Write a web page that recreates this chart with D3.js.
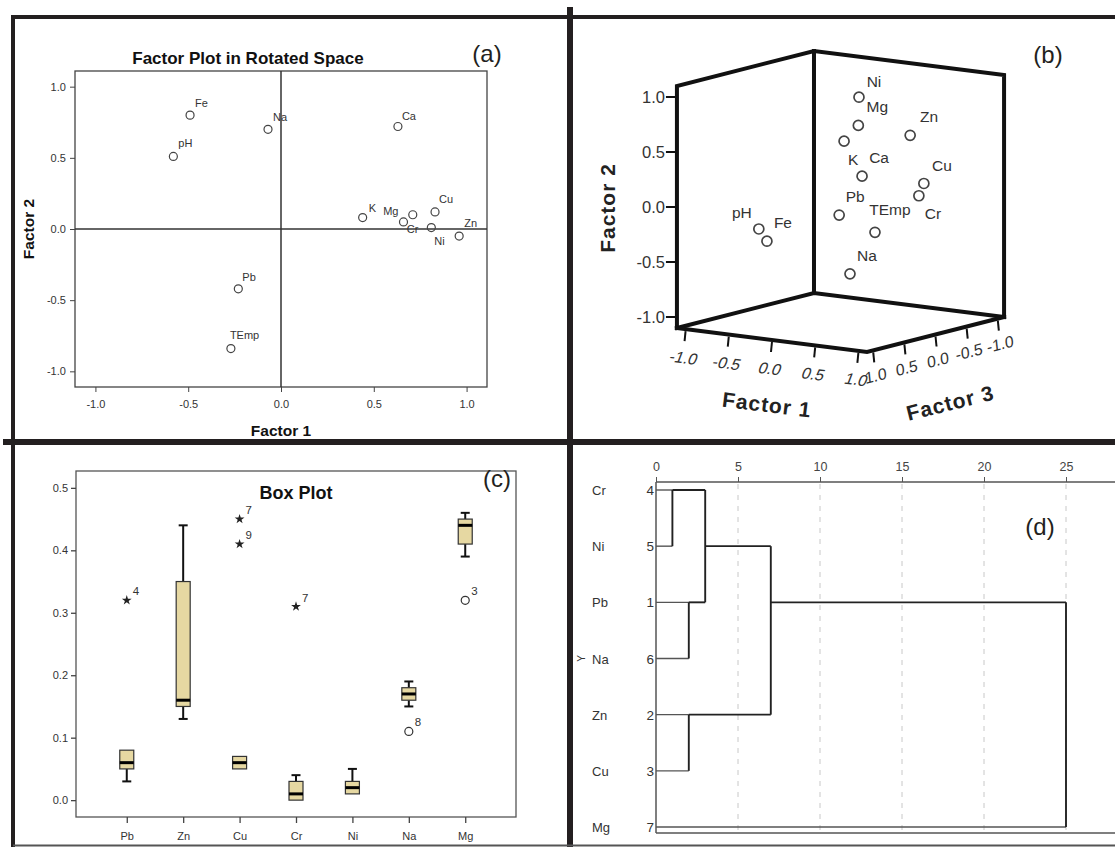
<!DOCTYPE html>
<html>
<head>
<meta charset="utf-8">
<script src="https://cdn.jsdelivr.net/npm/d3@7"></script>
<style>
  html, body { margin: 0; padding: 0; background: #fff; }
  svg { display: block; }
  text { font-family: Arial, "Liberation Sans", sans-serif; }
</style>
</head>
<body>
<svg id="chart" width="1115" height="847"></svg>
<script>
// ---------------- DATA ----------------
// (a) Factor plot in rotated space
const varsA = ["Fe", "Na", "pH", "Ca", "K", "Mg", "Cr", "Cu", "Ni", "Zn", "Pb", "TEmp"];
const f1A   = [-0.49, -0.07, -0.58, 0.63, 0.44, 0.66, 0.71, 0.83, 0.81, 0.96, -0.23, -0.27];
const f2A   = [0.80, 0.70, 0.51, 0.72, 0.08, 0.05, 0.10, 0.12, 0.01, -0.05, -0.42, -0.84];
const ticksA = [-1.0, -0.5, 0.0, 0.5, 1.0];

// (b) 3-D factor plot
const varsB = ["Ni", "Mg", "K", "Zn", "Ca", "Cu", "Cr", "Pb", "TEmp", "Na", "pH", "Fe"];
const f1B   = [0.25, 0.30, 0.20, 0.90, 0.30, 0.90, 0.90, 0.10, 0.50, 0.20, -0.70, -0.70];
const f2B   = [0.98, 0.74, 0.60, 0.71, 0.27, 0.24, 0.14, -0.09, -0.21, -0.62, -0.27, -0.40];
const f3B   = [0.05, 0.13, 0.22, 0.13, 0.07, -0.09, -0.01, 0.16, 0.14, 0.125, 0.34, 0.21];
const ticksB = [-1.0, -0.5, 0.0, 0.5, 1.0];

// (c) Box plot
const boxCats = ["Pb", "Zn", "Cu", "Cr", "Ni", "Na", "Mg"];
const boxMin  = [0.03, 0.13, 0.05, 0.00, 0.01, 0.15, 0.39];
const boxQ1   = [0.05, 0.15, 0.05, 0.00, 0.01, 0.16, 0.41];
const boxMed  = [0.06, 0.16, 0.06, 0.01, 0.02, 0.17, 0.44];
const boxQ3   = [0.08, 0.35, 0.07, 0.03, 0.03, 0.18, 0.45];
const boxMax  = [0.08, 0.44, 0.07, 0.04, 0.05, 0.19, 0.46];
const outCat  = ["Pb", "Cu", "Cu", "Cr", "Na", "Mg"];
const outVal  = [0.32, 0.45, 0.41, 0.31, 0.11, 0.32];
const outCase = ["4", "7", "9", "7", "8", "3"];
const outKind = ["extreme", "extreme", "extreme", "extreme", "outlier", "outlier"];
const ticksC  = [0.0, 0.1, 0.2, 0.3, 0.4, 0.5];

// (d) Dendrogram
const leafNames = ["Cr", "Ni", "Pb", "Na", "Zn", "Cu", "Mg"];
const leafNums  = ["4", "5", "1", "6", "2", "3", "7"];
const mergeIds   = ["C1", "C2", "C3", "C4", "C5", "C6"];
const mergeLeft  = ["Cr", "Pb", "Zn", "C1", "C4", "C5"];
const mergeRight = ["Ni", "Na", "Cu", "C2", "C3", "Mg"];
const mergeDist  = [1, 2, 2, 3, 7, 25];
const ticksD = [0, 5, 10, 15, 20, 25];

// ---------------- STYLE / LAYOUT ----------------
const INK = "#231f20";
const TXT = "#333";
const fmt1 = t => t.toFixed(1);   // plain hyphen minus, like the original
const svg = d3.select("#chart");

const labOffA = {
  Fe: [5, -8, "start"], Na: [5, -8, "start"], pH: [5, -9, "start"], Ca: [4, -7, "start"],
  K: [6, -6, "start"], Mg: [-5, -7, "end"], Cr: [-6, 18, "start"], Cu: [4, -9, "start"],
  Ni: [3, 17, "start"], Zn: [5, -9, "start"], Pb: [4, -8, "start"], TEmp: [-1, -10, "start"]
};
const labOffB = {
  Ni: [15, -15], Mg: [19, -18], Zn: [19, -18], K: [9, 19], Ca: [17, -18], Cu: [18, -17],
  Cr: [14, 18], TEmp: [15, -22], Pb: [16, -18], Na: [17, -18], pH: [-17, -16], Fe: [16, -18]
};

// ================= PANEL (a) =================
(function () {
  const L = 75, R = 487, T = 71, B = 387;
  const x = d3.scaleLinear().domain([-1.11, 1.11]).range([L, R]);
  const y = d3.scaleLinear().domain([-1.11, 1.11]).range([B, T]);
  const g = svg.append("g");

  g.append("rect").attr("x", L).attr("y", T).attr("width", R - L).attr("height", B - T)
    .attr("fill", "none").attr("stroke", "#444").attr("stroke-width", 1.3);

  g.append("line").attr("x1", x(0)).attr("x2", x(0)).attr("y1", T).attr("y2", B)
    .attr("stroke", "#333").attr("stroke-width", 1.5);
  g.append("line").attr("x1", L).attr("x2", R).attr("y1", y(0)).attr("y2", y(0))
    .attr("stroke", "#333").attr("stroke-width", 1.5);

  const xa = g.append("g").attr("transform", `translate(0,${B})`)
    .call(d3.axisBottom(x).tickValues(ticksA).tickFormat(fmt1).tickSize(5).tickSizeOuter(0));
  const ya = g.append("g").attr("transform", `translate(${L},0)`)
    .call(d3.axisLeft(y).tickValues(ticksA).tickFormat(fmt1).tickSize(5).tickSizeOuter(0));
  [xa, ya].forEach(a => {
    a.select(".domain").remove();
    a.selectAll("line").attr("stroke", "#444");
    a.selectAll("text").attr("fill", TXT).attr("font-size", 11);
  });
  xa.selectAll("text").attr("dy", "1.2em");
  ya.selectAll("text").attr("dx", "-0.1em");

  g.append("text").attr("x", 248).attr("y", 64).attr("text-anchor", "middle")
    .attr("font-size", 17).attr("font-weight", "bold").attr("fill", "#111")
    .text("Factor Plot in Rotated Space");
  g.append("text").attr("x", x(0)).attr("y", 436).attr("text-anchor", "middle")
    .attr("font-size", 15.5).attr("font-weight", "bold").attr("fill", "#111").text("Factor 1");
  g.append("text").attr("transform", `translate(34,${y(0)}) rotate(-90)`).attr("text-anchor", "middle")
    .attr("font-size", 15.5).attr("font-weight", "bold").attr("fill", "#111").text("Factor 2");
  g.append("text").attr("x", 487).attr("y", 62).attr("text-anchor", "middle")
    .attr("font-size", 24).attr("fill", INK).text("(a)");

  const pts = varsA.map((v, i) => ({ v, x: f1A[i], y: f2A[i] }));
  g.selectAll("circle.pa").data(pts).join("circle").attr("class", "pa")
    .attr("cx", d => x(d.x)).attr("cy", d => y(d.y)).attr("r", 4)
    .attr("fill", "none").attr("stroke", "#444").attr("stroke-width", 1.2);
  g.selectAll("text.la").data(pts).join("text").attr("class", "la")
    .attr("x", d => x(d.x) + labOffA[d.v][0]).attr("y", d => y(d.y) + labOffA[d.v][1])
    .attr("text-anchor", d => labOffA[d.v][2])
    .attr("font-size", 11).attr("fill", TXT).text(d => d.v);
})();

// ================= PANEL (b) =================
(function () {
  const ox = 840.5, oy = 201.5;
  const u1x = d3.scaleLinear().domain([-1, 1]).range([-86.4, 86.4]);
  const u1y = d3.scaleLinear().domain([-1, 1]).range([-10.9, 10.9]);
  const v2y = d3.scaleLinear().domain([-1, 1]).range([110, -110]);
  const w3x = d3.scaleLinear().domain([-1, 1]).range([62.3, -62.3]);
  const w3y = d3.scaleLinear().domain([-1, 1]).range([-15.9, 15.9]);
  const P = (a, b, c) => [ox + u1x(a) + w3x(c), oy + u1y(a) + v2y(b) + w3y(c)];
  const E = 1.1;
  const g = svg.append("g");
  const line = d3.line();
  const edge = (pts) => g.append("path").attr("d", line(pts)).attr("fill", "none")
    .attr("stroke", "#111").attr("stroke-width", 4).attr("stroke-linejoin", "miter").attr("stroke-linecap", "square");

  edge([P(-E, -E, E), P(-E, E, E), P(-E, E, -E), P(E, E, -E), P(E, -E, -E)]);
  edge([P(-E, -E, -E), P(-E, E, -E)]);
  edge([P(-E, -E, E), P(-E, -E, -E), P(E, -E, -E)]);
  edge([P(-E, -E, E), P(E, -E, E), P(E, -E, -E)]);

  ticksB.forEach(t => {
    const p = P(-E, t, E);
    g.append("line").attr("x1", p[0] - 11).attr("x2", p[0]).attr("y1", p[1]).attr("y2", p[1])
      .attr("stroke", "#111").attr("stroke-width", 2);
    g.append("text").attr("x", p[0] - 12).attr("y", p[1] + 6).attr("text-anchor", "end")
      .attr("font-size", 16.5).attr("fill", TXT).text(fmt1(t));
  });
  ticksB.forEach(t => {
    const p = P(t, -E, E);
    g.append("line").attr("x1", p[0]).attr("x2", p[0] - 1).attr("y1", p[1] + 2).attr("y2", p[1] + 12)
      .attr("stroke", "#111").attr("stroke-width", 2);
    g.append("text").attr("transform", `translate(${p[0] - 4},${p[1] + 34}) rotate(7) skewX(-14)`)
      .attr("text-anchor", "middle").attr("font-size", 16).attr("fill", TXT)
      .text(fmt1(t));
  });
  ticksB.forEach(t => {
    const p = P(E, -E, t);
    g.append("line").attr("x1", p[0]).attr("x2", p[0] + 1).attr("y1", p[1] + 2).attr("y2", p[1] + 12)
      .attr("stroke", "#111").attr("stroke-width", 2);
    g.append("text").attr("transform", `translate(${p[0] + 3},${p[1] + 31}) rotate(-14) skewX(-8)`)
      .attr("text-anchor", "middle").attr("font-size", 16).attr("fill", TXT)
      .text(fmt1(t));
  });

  g.append("text").attr("transform", "translate(766,412) rotate(7)").attr("text-anchor", "middle")
    .attr("font-size", 21).attr("font-weight", "bold").attr("letter-spacing", 1).attr("fill", "#222").text("Factor 1");
  g.append("text").attr("transform", "translate(952,410) rotate(-14)").attr("text-anchor", "middle")
    .attr("font-size", 21).attr("font-weight", "bold").attr("letter-spacing", 1).attr("fill", "#222").text("Factor 3");
  g.append("text").attr("transform", "translate(615,208) rotate(-90)").attr("text-anchor", "middle")
    .attr("font-size", 21).attr("font-weight", "bold").attr("letter-spacing", 1).attr("fill", "#222").text("Factor 2");
  g.append("text").attr("x", 1048).attr("y", 63).attr("text-anchor", "middle")
    .attr("font-size", 24).attr("fill", INK).text("(b)");

  const pts = varsB.map((v, i) => ({ v, p: P(f1B[i], f2B[i], f3B[i]) }));
  g.selectAll("circle.pb").data(pts).join("circle").attr("class", "pb")
    .attr("cx", d => d.p[0]).attr("cy", d => d.p[1]).attr("r", 5)
    .attr("fill", "none").attr("stroke", "#444").attr("stroke-width", 1.7);
  g.selectAll("text.lb").data(pts).join("text").attr("class", "lb")
    .attr("x", d => d.p[0] + labOffB[d.v][0]).attr("y", d => d.p[1] + labOffB[d.v][1] + 5)
    .attr("text-anchor", "middle").attr("font-size", 15.5).attr("fill", TXT).text(d => d.v);
})();

// ================= PANEL (c) =================
(function () {
  const L = 76, R = 516, T = 471, B = 817;
  const x = d3.scalePoint().domain(boxCats).range([L, R]).padding(0.9);
  const y = d3.scaleLinear().domain([-0.027, 0.527]).range([B, T]);
  const g = svg.append("g");

  g.append("rect").attr("x", L).attr("y", T).attr("width", R - L).attr("height", B - T)
    .attr("fill", "none").attr("stroke", "#555").attr("stroke-width", 1.3);

  const xa = g.append("g").attr("transform", `translate(0,${B})`)
    .call(d3.axisBottom(x).tickSize(6).tickSizeOuter(0));
  const ya = g.append("g").attr("transform", `translate(${L},0)`)
    .call(d3.axisLeft(y).tickValues(ticksC).tickFormat(fmt1).tickSize(5).tickSizeOuter(0));
  [xa, ya].forEach(a => {
    a.select(".domain").remove();
    a.selectAll("line").attr("stroke", "#444").attr("stroke-width", 1.3);
    a.selectAll("text").attr("fill", TXT).attr("font-size", 11);
  });
  xa.selectAll("text").attr("dy", "1.25em");

  g.append("text").attr("x", 296).attr("y", 499).attr("text-anchor", "middle")
    .attr("font-size", 18).attr("font-weight", "bold").attr("fill", "#111").text("Box Plot");
  g.append("text").attr("x", 497).attr("y", 487).attr("text-anchor", "middle")
    .attr("font-size", 24).attr("fill", INK).text("(c)");

  const bw = 14, cap = 9;
  const boxes = boxCats.map((c, i) => ({ c, mn: boxMin[i], q1: boxQ1[i], md: boxMed[i], q3: boxQ3[i], mx: boxMax[i] }));
  const bg = g.selectAll("g.box").data(boxes).join("g").attr("class", "box");
  bg.filter(d => d.mx > d.q3).append("line").attr("x1", d => x(d.c)).attr("x2", d => x(d.c))
    .attr("y1", d => y(d.q3)).attr("y2", d => y(d.mx)).attr("stroke", "#111").attr("stroke-width", 2);
  bg.filter(d => d.mx > d.q3).append("line").attr("x1", d => x(d.c) - cap / 2).attr("x2", d => x(d.c) + cap / 2)
    .attr("y1", d => y(d.mx)).attr("y2", d => y(d.mx)).attr("stroke", "#111").attr("stroke-width", 2);
  bg.filter(d => d.mn < d.q1).append("line").attr("x1", d => x(d.c)).attr("x2", d => x(d.c))
    .attr("y1", d => y(d.q1)).attr("y2", d => y(d.mn)).attr("stroke", "#111").attr("stroke-width", 2);
  bg.filter(d => d.mn < d.q1).append("line").attr("x1", d => x(d.c) - cap / 2).attr("x2", d => x(d.c) + cap / 2)
    .attr("y1", d => y(d.mn)).attr("y2", d => y(d.mn)).attr("stroke", "#111").attr("stroke-width", 2);
  bg.append("rect").attr("x", d => x(d.c) - bw / 2).attr("width", bw)
    .attr("y", d => y(d.q3)).attr("height", d => Math.max(1, y(d.q1) - y(d.q3)))
    .attr("fill", "#e6d8a2").attr("stroke", "#333").attr("stroke-width", 1.2);
  bg.append("line").attr("x1", d => x(d.c) - bw / 2).attr("x2", d => x(d.c) + bw / 2)
    .attr("y1", d => y(d.md)).attr("y2", d => y(d.md)).attr("stroke", "#000").attr("stroke-width", 3);

  const outs = outCat.map((c, i) => ({ c, v: outVal[i], n: outCase[i], k: outKind[i] }));
  const star = d3.symbol().type(d3.symbolStar).size(30);
  g.selectAll("path.ext").data(outs.filter(d => d.k === "extreme")).join("path").attr("class", "ext")
    .attr("d", star).attr("transform", d => `translate(${x(d.c)},${y(d.v)})`).attr("fill", "#222");
  g.selectAll("circle.out").data(outs.filter(d => d.k === "outlier")).join("circle").attr("class", "out")
    .attr("cx", d => x(d.c)).attr("cy", d => y(d.v)).attr("r", 4)
    .attr("fill", "none").attr("stroke", "#333").attr("stroke-width", 1.2);
  g.selectAll("text.oc").data(outs).join("text").attr("class", "oc")
    .attr("x", d => x(d.c) + 6).attr("y", d => y(d.v) - 5)
    .attr("font-size", 11.5).attr("fill", TXT).text(d => d.n);
})();

// ================= PANEL (d) =================
(function () {
  const L = 656, R = 1115, T = 482, B = 833;
  const x = d3.scaleLinear().domain([0, 25]).range([656, 1066]);
  const y = d3.scaleLinear().domain([0, 6]).range([490, 827]);
  const g = svg.append("g");

  g.selectAll("line.grid").data(ticksD.filter(t => t > 0)).join("line").attr("class", "grid")
    .attr("x1", d => x(d)).attr("x2", d => x(d)).attr("y1", T + 2).attr("y2", B - 1)
    .attr("stroke", "#c8c8c8").attr("stroke-width", 1).attr("stroke-dasharray", "5,6");

  const xa = g.append("g").attr("transform", `translate(0,${T})`)
    .call(d3.axisTop(x).tickValues(ticksD).tickSize(5).tickSizeOuter(0));
  xa.select(".domain").remove();
  xa.selectAll("line").attr("stroke", "#555");
  xa.selectAll("text").attr("fill", "#444").attr("font-size", 12.5).attr("dy", "-0.25em");
  g.append("line").attr("x1", L).attr("x2", R).attr("y1", T).attr("y2", T).attr("stroke", "#555").attr("stroke-width", 1.5);
  g.append("line").attr("x1", L).attr("x2", R).attr("y1", B).attr("y2", B).attr("stroke", "#555").attr("stroke-width", 1.5);
  g.append("line").attr("x1", L).attr("x2", L).attr("y1", T).attr("y2", B).attr("stroke", "#555").attr("stroke-width", 1.5);

  leafNames.forEach((n, i) => {
    g.append("text").attr("x", 592).attr("y", y(i) + 5).attr("font-size", 13).attr("fill", TXT).text(n);
    g.append("text").attr("x", 654).attr("y", y(i) + 5).attr("text-anchor", "end")
      .attr("font-size", 13.5).attr("fill", TXT).text(leafNums[i]);
  });
  g.append("text").attr("transform", `translate(585,${y(3)}) rotate(-90)`).attr("text-anchor", "middle")
    .attr("font-size", 10).attr("fill", TXT).text("Y");

  const node = {};
  leafNames.forEach((n, i) => { node[n] = { pos: i, d: 0, leaf: true }; });
  mergeIds.forEach((id, i) => {
    const a = node[mergeLeft[i]], b = node[mergeRight[i]], dm = mergeDist[i];
    [a, b].forEach(n => {
      g.append("line").attr("x1", x(n.d)).attr("x2", x(dm)).attr("y1", y(n.pos)).attr("y2", y(n.pos))
        .attr("stroke", n.leaf ? "#555" : "#222").attr("stroke-width", n.leaf ? 1.4 : 1.9);
    });
    g.append("line").attr("x1", x(dm)).attr("x2", x(dm)).attr("y1", y(a.pos)).attr("y2", y(b.pos))
      .attr("stroke", "#222").attr("stroke-width", 1.9);
    node[id] = { pos: Math.floor((a.pos + b.pos) / 2), d: dm, leaf: false };
  });

  g.append("text").attr("x", 1040).attr("y", 535).attr("text-anchor", "middle")
    .attr("font-size", 24).attr("fill", INK).text("(d)");
})();

// ================= FRAME =================
const frame = svg.append("g").attr("stroke", INK).attr("stroke-linecap", "butt");
frame.append("line").attr("x1", 11).attr("x2", 1115).attr("y1", 17).attr("y2", 17).attr("stroke-width", 4);
frame.append("line").attr("x1", 13).attr("x2", 13).attr("y1", 15).attr("y2", 847).attr("stroke-width", 4);
frame.append("line").attr("x1", 570).attr("x2", 570).attr("y1", 7).attr("y2", 847).attr("stroke-width", 6);
frame.append("line").attr("x1", 3).attr("x2", 1115).attr("y1", 442).attr("y2", 442).attr("stroke-width", 6);
frame.append("line").attr("x1", 13).attr("x2", 1115).attr("y1", 845.5).attr("y2", 845.5)
  .attr("stroke-width", 2).attr("stroke", "#555");
</script>
</body>
</html>
